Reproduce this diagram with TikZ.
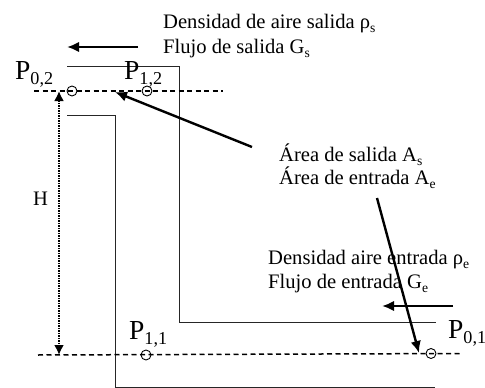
\documentclass[tikz,border=0pt]{standalone}
\usepackage{fontspec}
\setmainfont{Liberation Serif}
\usetikzlibrary{arrows.meta}
\newcommand{\lowsub}[1]{\raisebox{-0.2em}{\scalebox{0.66}{#1}}}
\begin{document}
\begin{tikzpicture}[x=1pt,y=-1pt,
  lbl/.style={inner sep=0pt,anchor=base west,font=\fontsize{20.6}{20.6}\selectfont},
  plbl/.style={inner sep=0pt,anchor=base west,font=\fontsize{27.5}{27.5}\selectfont},
  duct/.style={line width=1pt,draw=black!85},
  datum/.style={line width=1.5pt,dash pattern=on 5pt off 3.5pt},
  fat/.style={line width=2.4pt,-{Latex[length=12pt,width=10.5pt]}},
  port/.style={circle,draw,line width=0.9pt,minimum size=10pt,inner sep=0pt},
  height/.style={line width=2pt,dash pattern=on 1.5pt off 1pt,{Latex[length=10pt,width=10pt]}-{Latex[length=10pt,width=10pt]}}]
\useasboundingbox (0,0) rectangle (485,388);
\fill[white] (0,0) rectangle (485,388);
% duct walls
\coordinate (ua) at (67,66); \coordinate (ub) at (179.5,66);
\coordinate (uc) at (179.5,322); \coordinate (ud) at (436,322);
\coordinate (la) at (67,115); \coordinate (lb) at (115.5,115);
\coordinate (lc) at (115.5,387); \coordinate (ld) at (435,387);
\draw[duct] (ua) -- (ub) -- (uc) -- (ud);
\draw[duct] (la) -- (lb) -- (lc) -- (ld);
% datum lines
\coordinate (t1) at (34,91); \coordinate (t2) at (223,91);
\coordinate (b1) at (38,355); \coordinate (b2) at (462,353.5);
\draw[datum] (t1) -- (t2);
\draw[datum] (b1) -- (b2);
% height
\coordinate (h1) at (59,91); \coordinate (h2) at (59,355);
\draw[height] (h1) -- (h2);
% ports
\node[port] (p02) at (72,91) {};
\node[port] (p12) at (147,91) {};
\node[port] (p11) at (146,355) {};
\node[port] (p01) at (431,353.5) {};
% labels
\node[plbl] (lp02) at (15,79) {P\lowsub{0,2}};
\node[plbl] (lp12) at (124,79) {P\lowsub{1,2}};
\node[plbl] (lp11) at (129,339) {P\lowsub{1,1}};
\node[plbl] (lp01) at (448,338) {P\lowsub{0,1}};
\node[lbl] (th) at (33,205) {H};
\node[lbl] (t1a) at (163,28) {Densidad de aire salida ρ\lowsub{s}};
\node[lbl] (t1b) at (163,53) {Flujo de salida G\lowsub{s}};
\node[lbl] (t2a) at (279,161) {Área de salida A\lowsub{s}};
\node[lbl] (t2b) at (279,184) {Área de entrada A\lowsub{e}};
\node[lbl] (t3a) at (268,264) {Densidad aire entrada ρ\lowsub{e}};
\node[lbl] (t3b) at (268,288) {Flujo de entrada G\lowsub{e}};
% arrows
\coordinate (a1) at (138,47); \coordinate (a2) at (67,47);
\coordinate (b1s) at (252,147); \coordinate (b1e) at (115,92);
\coordinate (c1s) at (377,198); \coordinate (c1e) at (419,353);
\coordinate (d1s) at (453,306); \coordinate (d1e) at (382,306);
\draw[fat] (a1) -- (a2);
\draw[fat] (b1s) -- (b1e);
\draw[fat] (c1s) -- (c1e);
\draw[fat] (d1s) -- (d1e);
\end{tikzpicture}
\end{document}
